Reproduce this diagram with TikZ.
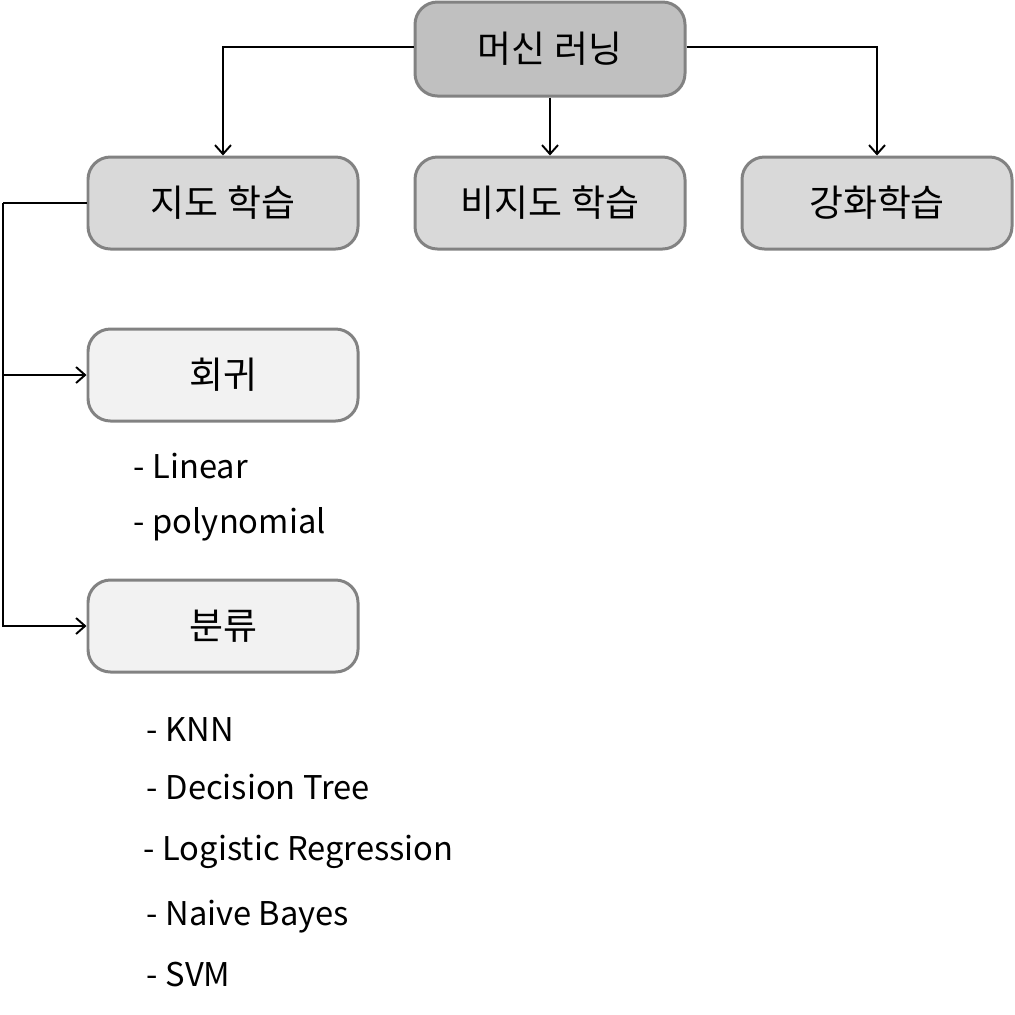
\documentclass[tikz,border=0pt]{standalone}
\usepackage{fontspec}
\setmainfont{Noto Sans CJK KR}
\usetikzlibrary{arrows.meta, positioning}
\definecolor{cborder}{HTML}{828282}
\definecolor{croot}{HTML}{C0C0C0}
\definecolor{cmid}{HTML}{D9D9D9}
\definecolor{cleaf}{HTML}{F2F2F2}
\tikzset{
  every picture/.style={line width=1.1pt},
  box/.style={draw=cborder, fill=#1, line width=1.7pt, rounded corners=0.45cm,
    minimum width=5.4cm, minimum height=1.84cm, font=\fontsize{21}{25}\selectfont},
  box/.default=cmid,
  arrow/.style={-{Straight Barb[length=1.8mm, width=3.2mm]}, draw=black},
  item/.style={anchor=west, inner sep=0pt, font=\fontsize{18.6}{22}\selectfont},
}
\begin{document}
\begin{tikzpicture}
  \useasboundingbox (0,0) rectangle (20.3,-20.28);
  \node[box=croot, minimum height=1.88cm] (ml) at (11.0,-0.98) {머신 러닝};
  \node[box] (sup) at (4.46,-4.06) {지도 학습};
  \node[box] (unsup) at (11.0,-4.06) {비지도 학습};
  \node[box] (rl) at (17.54,-4.06) {강화학습};
  \node[box=cleaf] (reg) at (4.46,-7.5) {회귀};
  \node[box=cleaf] (cls) at (4.46,-12.52) {분류};
  % tree connectors
  \draw[arrow] ([yshift=0.04cm]ml.west) -| (sup.north);
  \draw[arrow] ([yshift=0.04cm]ml.east) -| (rl.north);
  \draw[arrow] (ml.south) -- (unsup.north);
  \coordinate (bus) at (0.06,-4.06);
  \draw (sup.west) -- (bus);
  \draw[arrow] (bus) |- (reg.west);
  \draw[arrow] (bus) |- (cls.west);
  % algorithm lists
  \node[item] (lin) at (2.66,-9.32) {- Linear};
  \node[item] (poly) at (2.66,-10.48) {- polynomial};
  \node[item] (knn) at (2.92,-14.6) {- KNN};
  \node[item] (dt) at (2.92,-15.74) {- Decision Tree};
  \node[item] (lr) at (2.86,-17.04) {- Logistic Regression};
  \node[item] (nb) at (2.92,-18.34) {- Naive Bayes};
  \node[item] (svm) at (2.92,-19.48) {- SVM};
\end{tikzpicture}
\end{document}
